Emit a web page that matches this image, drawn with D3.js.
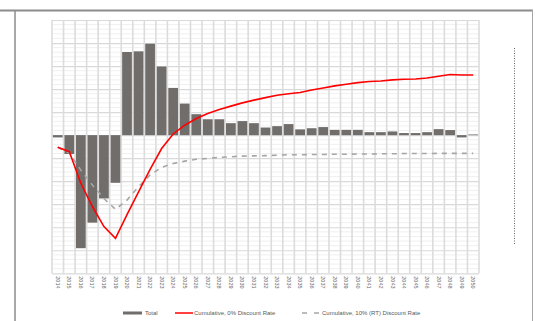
<!DOCTYPE html>
<html>
<head>
<meta charset="utf-8">
<script src="https://cdn.jsdelivr.net/npm/d3@7"></script>
<style>
  body { margin: 0; background: #fff; }
  svg { display: block; font-family: "Liberation Sans", Arial, sans-serif; }
</style>
</head>
<body>
<div id="chart"></div>
<script>
// data
var years = d3.range(2014, 2051).map(String);

var total = [-0.1, -0.82, -4.91, -3.80, -2.75, -2.07, 3.61, 3.64, 3.97, 2.98,
             2.05, 1.37, 0.91, 0.69, 0.69, 0.52, 0.61, 0.52, 0.33, 0.39,
             0.48, 0.25, 0.30, 0.35, 0.23, 0.23, 0.23, 0.13, 0.13, 0.16,
             0.09, 0.09, 0.13, 0.26, 0.22, -0.1, 0.03];

var cum0 = [-0.53, -0.72, -2.09, -3.10, -3.97, -4.48, -3.45, -2.46, -1.49, -0.58,
            0.05, 0.43, 0.72, 0.94, 1.11, 1.26, 1.40, 1.52, 1.63, 1.73,
            1.80, 1.85, 1.96, 2.05, 2.14, 2.21, 2.28, 2.33, 2.35, 2.40,
            2.43, 2.44, 2.48, 2.56, 2.63, 2.61, 2.61];

var cum10 = [-0.53, -0.77, -1.52, -2.17, -2.75, -3.22, -2.82, -2.24, -1.73, -1.40,
             -1.23, -1.13, -1.05, -1.01, -0.97, -0.94, -0.91, -0.90, -0.89, -0.87,
             -0.85, -0.85, -0.84, -0.84, -0.83, -0.83, -0.82, -0.82, -0.81, -0.81,
             -0.80, -0.80, -0.80, -0.79, -0.79, -0.79, -0.79];

var legendNames = ["Total", "Cumulative, 0% Discount Rate", "Cumulative, 10% (RT) Discount Rate"];

var W = 535, H = 321;
var plot = {left: 52, right: 479, top: 20, bottom: 273.3};

var svg = d3.select("#chart").append("svg")
    .attr("width", W)
    .attr("height", H);

// outer frame
svg.append("line").attr("x1", 0).attr("x2", 533).attr("y1", 10.5).attr("y2", 10.5)
    .attr("stroke", "#8c8c8c").attr("stroke-width", 2);
svg.append("line").attr("x1", 15).attr("x2", 15).attr("y1", 10).attr("y2", H)
    .attr("stroke", "#8c8c8c").attr("stroke-width", 1.5);
svg.append("line").attr("x1", 532.5).attr("x2", 532.5).attr("y1", 10).attr("y2", H)
    .attr("stroke", "#a6a6a6").attr("stroke-width", 1);

var x = d3.scaleBand()
    .domain(years)
    .range([plot.left, plot.right])
    .padding(0);

var y = d3.scaleLinear()
    .domain([-6, 5])
    .range([plot.bottom, plot.top]);

// minor horizontal grid
var minor = d3.range(-6, 5.001, 0.2).filter(function(v) { return Math.abs(v - Math.round(v)) > 0.01; });
svg.append("g").selectAll("line")
    .data(minor)
    .enter().append("line")
    .attr("x1", plot.left).attr("x2", plot.right)
    .attr("y1", function(d) { return y(d); })
    .attr("y2", function(d) { return y(d); })
    .attr("stroke", "#f0f0f0")
    .attr("stroke-width", 1);

// major horizontal grid
svg.append("g")
    .attr("transform", "translate(" + plot.left + ",0)")
    .call(d3.axisLeft(y).ticks(11).tickSize(-(plot.right - plot.left)).tickFormat(""))
    .call(function(g) { g.select(".domain").remove(); })
    .selectAll("line")
    .attr("stroke", "#d9d9d9")
    .attr("stroke-width", 1.2);

// vertical grid at category edges
var edges = years.map(function(d) { return x(d); }).concat([plot.right]);
svg.append("g").selectAll("line")
    .data(edges)
    .enter().append("line")
    .attr("x1", function(d) { return d; })
    .attr("x2", function(d) { return d; })
    .attr("y1", plot.top).attr("y2", plot.bottom)
    .attr("stroke", "#dcdcdc")
    .attr("stroke-width", 1.6);

// bars
svg.append("g").selectAll("rect")
    .data(total)
    .enter().append("rect")
    .attr("x", function(d, i) { return x(years[i]) + 0.9; })
    .attr("width", x.bandwidth() - 1.8)
    .attr("y", function(d) { return y(Math.max(0, d)); })
    .attr("height", function(d) { return Math.abs(y(d) - y(0)); })
    .attr("fill", "#716d6b");

// lines
var line = function(vals) {
  return d3.line()
    .x(function(d, i) { return x(years[i]) + x.bandwidth() / 2; })
    .y(function(d) { return y(d); })(vals);
};

svg.append("path")
    .attr("d", line(cum10))
    .attr("fill", "none")
    .attr("stroke", "#a6a6a6")
    .attr("stroke-width", 1.6)
    .attr("stroke-dasharray", "5,5");

svg.append("path")
    .attr("d", line(cum0))
    .attr("fill", "none")
    .attr("stroke", "#ff0000")
    .attr("stroke-width", 1.6);

// x labels, rotated
svg.append("g")
    .attr("transform", "translate(0," + plot.bottom + ")")
    .call(d3.axisBottom(x).tickSize(0).tickPadding(0))
    .call(function(g) { g.select(".domain").remove(); })
    .selectAll("text")
    .attr("transform", "translate(0,3)rotate(90)")
    .attr("x", 0).attr("y", 0).attr("dy", "0.35em")
    .style("text-anchor", "start")
    .style("font-size", "5.5px")
    .style("fill", "#666");

// right side tiny rotated label (unreadable in the reference)
svg.append("line")
    .attr("x1", 514.5).attr("x2", 514.5)
    .attr("y1", 48).attr("y2", 245)
    .attr("stroke", "#666")
    .attr("stroke-width", 1)
    .attr("stroke-dasharray", "1,1.5");

// legend
var ly = 313;
var lg = svg.append("g").style("font-size", "6px").style("fill", "#595959");
lg.append("rect").attr("x", 123).attr("y", ly - 1.5).attr("width", 19).attr("height", 3).attr("fill", "#716d6b");
lg.append("text").attr("x", 145).attr("y", ly).attr("dy", "0.35em").text(legendNames[0]);
lg.append("line").attr("x1", 175).attr("x2", 193).attr("y1", ly).attr("y2", ly)
    .attr("stroke", "#ff0000").attr("stroke-width", 1.5);
lg.append("text").attr("x", 194).attr("y", ly).attr("dy", "0.35em").text(legendNames[1]);
lg.append("line").attr("x1", 302).attr("x2", 319).attr("y1", ly).attr("y2", ly)
    .attr("stroke", "#a6a6a6").attr("stroke-width", 1.5).attr("stroke-dasharray", "5,7");
lg.append("text").attr("x", 322).attr("y", ly).attr("dy", "0.35em").text(legendNames[2]);
</script>
</body>
</html>
